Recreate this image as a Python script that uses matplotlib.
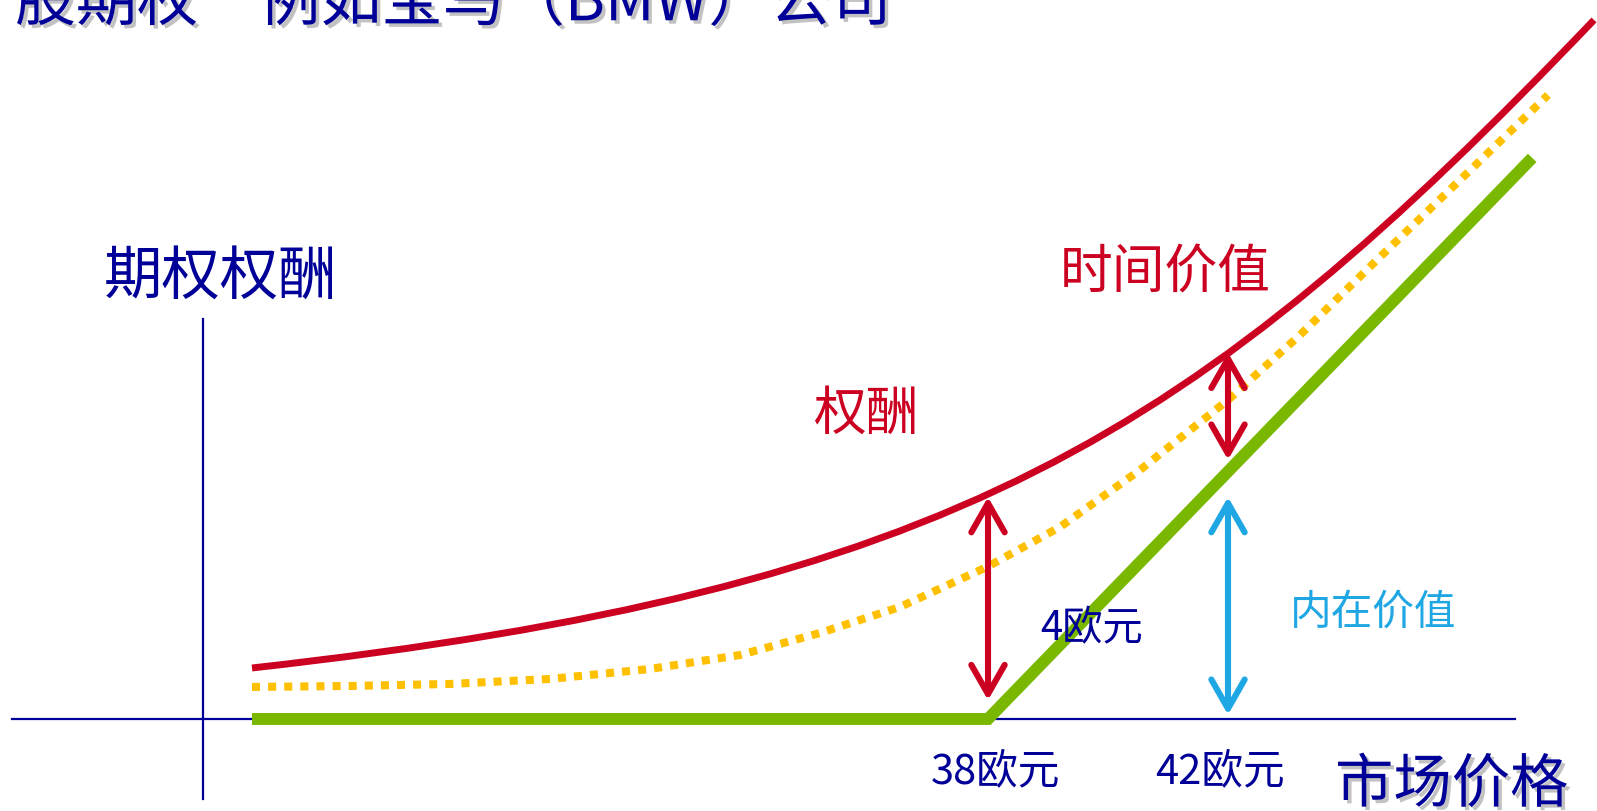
import matplotlib
matplotlib.use("Agg")
import matplotlib.pyplot as plt
import matplotlib.patheffects as pe
from matplotlib.path import Path
from matplotlib.patches import FancyArrowPatch, ArrowStyle, PathPatch

plt.rcParams['font.family'] = ['Noto Sans CJK SC', 'DejaVu Sans']

# option premium (red) is a smooth curve: start, two control points, end
premium_price = [25.733, 37.4, 41.433, 48.1]
premium_value = [0.919, 2.33, 5.063, 12.595]

# premium before expiry (dotted)
dotted_price = [25.733, 27.367, 29.033, 30.7, 32.367, 33.867, 35.2, 36.533, 37.983,
                39.2, 40.533, 42.0, 43.2, 44.533, 45.867, 47.333]
dotted_value = [0.577, 0.595, 0.631, 0.721, 0.901, 1.153, 1.55, 2.018, 2.739,
                3.459, 4.486, 5.748, 6.919, 8.324, 9.712, 11.243]

# intrinsic value (green)
intrinsic_price = [25.733, 38.0, 47.07]
intrinsic_value = [0.0, 0.0, 10.11]

strike = 38.0
spot = 42.0
premium_at_strike = 4.0      # "4欧元"
intrinsic_at_spot = 4.0
time_value_top = 6.6
time_value_bottom = 4.67

DARK_BLUE = '#000099'
RED = '#CC0020'
GREEN = '#7AB800'
YELLOW = '#FFC000'
LIGHT_BLUE = '#1FA7E4'

fig = plt.figure(figsize=(15.97, 8.11), dpi=100)
ax = fig.add_axes([0, 0, 1, 1])
ax.set_xlim(21.533, 48.15)
ax.set_ylim(-1.658, 12.955)
ax.axis('off')

# axes of the diagram
ax.plot([21.73, 46.78], [0, 0], color=DARK_BLUE, lw=1.6, zorder=1)
ax.plot([24.92, 24.92], [-1.44, 7.21], color=DARK_BLUE, lw=1.6, zorder=1)

ax.plot(dotted_price, dotted_value, color=YELLOW, lw=5.8, linestyle=(0, (1, 1)),
        dash_capstyle='butt', dash_joinstyle='round', zorder=2)
ax.plot(intrinsic_price, intrinsic_value, color=GREEN, lw=8.6,
        solid_capstyle='butt', solid_joinstyle='miter', zorder=3)

premium_path = Path(list(zip(premium_price, premium_value)),
                    [Path.MOVETO, Path.CURVE4, Path.CURVE4, Path.CURVE4])
ax.add_patch(PathPatch(premium_path, facecolor='none', edgecolor=RED, lw=5.0,
                       capstyle='butt', zorder=4))


def double_arrow(x, y0, y1, color, shrink_a=0, shrink_b=0):
    style = ArrowStyle('<->', head_length=21, head_width=12)
    arr = FancyArrowPatch((x, y0), (x, y1), arrowstyle=style, mutation_scale=1,
                          color=color, lw=4.4, capstyle='round', joinstyle='round',
                          shrinkA=shrink_a, shrinkB=shrink_b, zorder=5)
    ax.add_patch(arr)


double_arrow(strike, premium_at_strike, 0, RED, shrink_b=13.5)
double_arrow(spot, intrinsic_at_spot, 0, LIGHT_BLUE, shrink_b=3)
double_arrow(spot, time_value_top, time_value_bottom, RED)

shadow = [pe.SimplePatchShadow(offset=(2.5, -2.5), shadow_rgbFace='#9A9A9A', alpha=0.6),
          pe.Normal()]

ax.text(21.78, 12.59, '股期权　例如宝马（BMW）公司', color=DARK_BLUE, fontsize=44,
        ha='left', va='baseline', path_effects=shadow)
ax.text(25.2, 7.97, '期权权酬', color=DARK_BLUE, fontsize=42, ha='center', va='center')
ax.text(40.95, 8.04, '时间价值', color=RED, fontsize=38, ha='center', va='center')
ax.text(35.97, 5.49, '权酬', color=RED, fontsize=38, ha='center', va='center')
ax.text(39.73, 1.62, '4欧元', color=DARK_BLUE, fontsize=29, ha='center', va='center')
ax.text(44.42, 1.9, '内在价值', color=LIGHT_BLUE, fontsize=30, ha='center', va='center')
ax.text(38.12, -0.95, '38欧元', color=DARK_BLUE, fontsize=30, ha='center', va='center')
ax.text(41.87, -0.95, '42欧元', color=DARK_BLUE, fontsize=30, ha='center', va='center')
ax.text(45.73, -1.2, '市场价格', color=DARK_BLUE, fontsize=42, ha='center', va='center',
        path_effects=shadow)

fig.savefig('out.png', dpi=100)
